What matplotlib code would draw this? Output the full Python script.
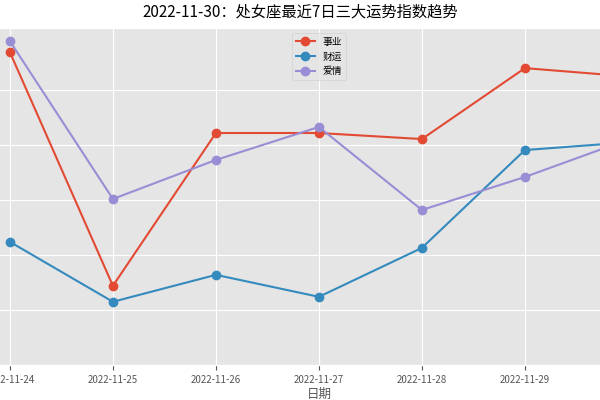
import matplotlib.pyplot as plt
import pandas as pd

plt.style.use("ggplot")
plt.rcParams["font.family"] = ["Noto Sans CJK SC", "DejaVu Sans"]
plt.rcParams["axes.unicode_minus"] = False

dates = ["2022-11-24", "2022-11-25", "2022-11-26", "2022-11-27",
         "2022-11-28", "2022-11-29", "2022-11-30"]
career = [106.9, 64.4, 92.2, 92.2, 91.1, 104.0, 102.5]
wealth = [72.4, 61.5, 66.4, 62.4, 71.3, 89.1, 90.5]
love = [108.9, 80.2, 87.3, 93.3, 78.2, 84.2, 91.0]

x = pd.to_datetime(dates)

fig = plt.figure(figsize=(6, 4), dpi=100)
ax = fig.add_axes([-0.035, 0.0875, 1.133, 0.8425])
ax.plot(x, career, marker="o", markersize=6, linewidth=1.5, label="事业")
ax.plot(x, wealth, marker="o", markersize=6, linewidth=1.5, label="财运")
ax.plot(x, love, marker="o", markersize=6, linewidth=1.5, label="爱情")
ax.set_xticks(x)
ax.set_xticklabels(dates, fontsize=7)
ax.set_yticks([60, 70, 80, 90, 100])
ax.set_yticklabels([])
ax.set_ylim(50, 111.3)
ax.set_xlabel("日期", fontsize=9, labelpad=2)
ax.legend(loc="upper center", fontsize=7)
fig.suptitle("2022-11-30：处女座最近7日三大运势指数趋势", fontsize=11, y=0.99)
fig.savefig("out.png")
